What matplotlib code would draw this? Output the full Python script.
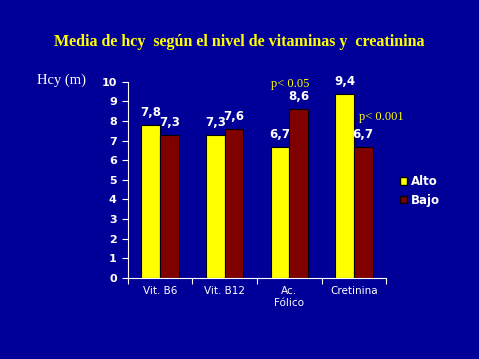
import matplotlib
matplotlib.use("Agg")
import matplotlib.pyplot as plt
import numpy as np
from matplotlib.patches import Patch

categories = ["Vit. B6", "Vit. B12", "Ac.\nFólico", "Cretinina"]
alto = [7.8, 7.3, 6.7, 9.4]
bajo = [7.3, 7.6, 8.6, 6.7]
labels_alto = ["7,8", "7,3", "6,7", "9,4"]
labels_bajo = ["7,3", "7,6", "8,6", "6,7"]

bg = "#000099"
fig = plt.figure(figsize=(4.79, 3.59), dpi=100, facecolor=bg)
ax = fig.add_axes([0.267, 0.226, 0.539, 0.546])
ax.set_facecolor(bg)

x = np.arange(len(categories))
w = 0.29
ax.bar(x - w / 2, alto, w, color="#ffff00", edgecolor="black", linewidth=0.8, label="Alto")
ax.bar(x + w / 2, bajo, w, color="#800000", edgecolor="black", linewidth=0.8, label="Bajo")

for i in range(len(categories)):
    ax.text(x[i] - w / 2, alto[i] + 0.3, labels_alto[i], ha="center", va="bottom",
            color="white", fontweight="bold", fontsize=8.5)
    ax.text(x[i] + w / 2, bajo[i] + 0.3, labels_bajo[i], ha="center", va="bottom",
            color="white", fontweight="bold", fontsize=8.5)

ax.text(2.02, 9.9, "p< 0.05", color="#ffff00", fontsize=9, family="Liberation Serif",
        ha="center", va="center", clip_on=False)
ax.text(3.43, 8.2, "p< 0.001", color="#ffff00", fontsize=9, family="Liberation Serif",
        ha="center", va="center", clip_on=False)

ax.set_xlim(-0.5, 3.5)
ax.set_ylim(0, 10)
ax.set_yticks(range(0, 11))
ax.set_xticks([-0.5, 0.5, 1.5, 2.5, 3.5])
ax.set_xticklabels([])
ax.set_xticks(x, minor=True)
ax.set_xticklabels(categories, minor=True, color="white", fontsize=7.5)
ax.tick_params(axis="x", which="minor", length=0, pad=6)
ax.tick_params(axis="x", which="major", colors="white", length=4, direction="out")
ax.tick_params(axis="y", colors="white", length=4, direction="out", pad=4)
for t in ax.get_yticklabels():
    t.set_fontweight("bold")
    t.set_fontsize(8)
    t.set_color("white")
for s in ["top", "right"]:
    ax.spines[s].set_visible(False)
for s in ["left", "bottom"]:
    ax.spines[s].set_color("white")

fig.text(0.5, 0.883, "Media de hcy  según el nivel de vitaminas y  creatinina", color="#ffff00",
         fontsize=11.5, fontweight="bold", family="Liberation Serif", ha="center", va="center")
fig.text(0.077, 0.777, "Hcy (m)", color="white", fontsize=10.5, family="Liberation Serif",
         ha="left", va="center")

handles = [Patch(facecolor="#ffff00", edgecolor="black"), Patch(facecolor="#800000", edgecolor="black")]
fig.legend(handles, ["Alto", "Bajo"], loc="center left", bbox_to_anchor=(0.813, 0.468),
           frameon=False, labelcolor="white", prop={"weight": "bold", "size": 8.5},
           handlelength=0.6, handleheight=0.6, handletextpad=0.3, labelspacing=0.45)

fig.savefig("out.png", dpi=100, facecolor=bg)
